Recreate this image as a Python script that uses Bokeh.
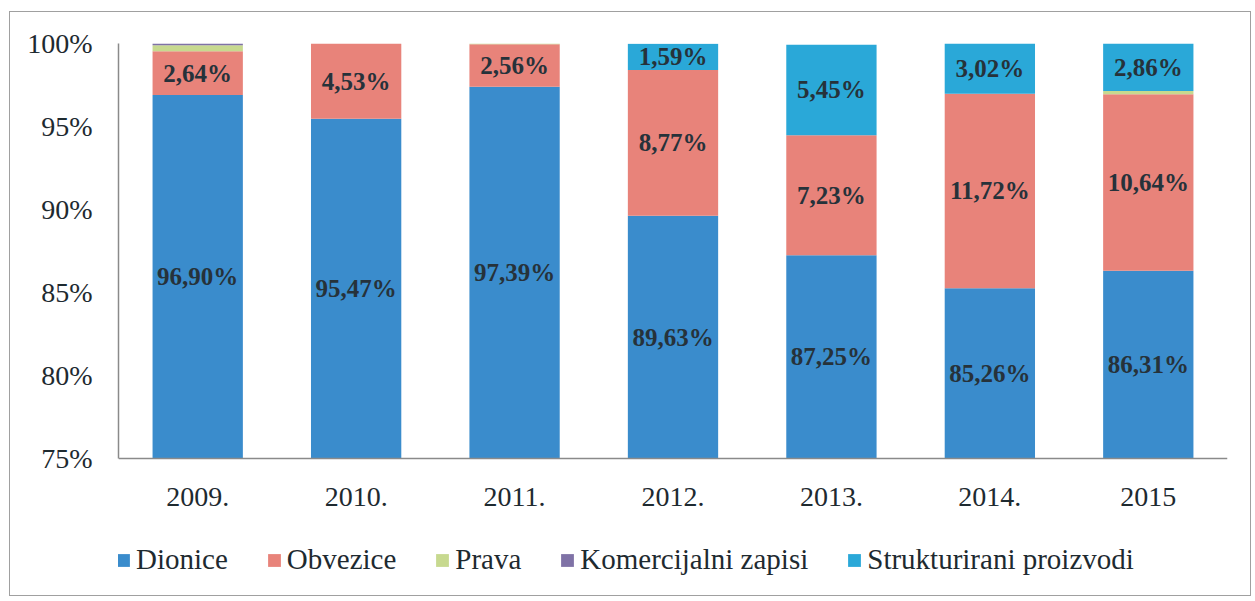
from bokeh.plotting import figure
from bokeh.models import Range1d, FactorRange, Legend, LegendItem, FixedTicker, Span
from bokeh.core.properties import value
from bokeh.embed import file_html
from bokeh.resources import INLINE

years = ["2009.", "2010.", "2011.", "2012.", "2013.", "2014.", "2015"]
series_names = ["Dionice", "Obvezice", "Prava", "Komercijalni zapisi", "Strukturirani proizvodi"]
dionice = [96.90, 95.47, 97.39, 89.63, 87.25, 85.26, 86.31]
obvezice = [2.64, 4.53, 2.56, 8.77, 7.23, 11.72, 10.64]
prava = [0.36, 0.0, 0.05, 0.0, 0.0, 0.0, 0.19]
komercijalni = [0.10, 0.0, 0.0, 0.0, 0.0, 0.0, 0.0]
strukturirani = [0.0, 0.0, 0.0, 1.59, 5.45, 3.02, 2.86]
y_ticks = [75, 80, 85, 90, 95, 100]
colors = ["#3a8ccc", "#e8837a", "#c7d98f", "#7f72a6", "#2aa8d8"]
FONT = "Liberation Serif"

Y_MIN, Y_MAX = 75, 100
# layout (pixels): axis area 415 px tall; frame extended downward to hold year labels and legend
AXIS_PX, FRAME_PX = 415, 550
per_px = (Y_MAX - Y_MIN) / AXIS_PX
y_start = Y_MAX - FRAME_PX * per_px

p = figure(x_range=FactorRange(*years), y_range=Range1d(y_start, Y_MAX),
           width=1244, height=587, output_backend="svg", toolbar_location=None,
           x_axis_location=None,
           min_border_left=110, min_border_right=25, min_border_top=33, min_border_bottom=4)
p.outline_line_color = None
p.border_fill_alpha = 0
p.background_fill_alpha = 0
p.xgrid.grid_line_color = None
p.ygrid.grid_line_color = None
p.styles = {"margin-left": "8px", "margin-top": "10px",
            "outline": "1.5px solid #a0a0a0", "outline-offset": "-2px"}

series = [dionice, obvezice, prava, komercijalni, strukturirani]
base = [0.0] * len(years)
renderers = []
lab_x, lab_y, lab_t = [], [], []
for j, (vals, col) in enumerate(zip(series, colors)):
    tops = [b + v for b, v in zip(base, vals)]
    bottoms = [max(b, Y_MIN) for b in base]
    r = p.vbar(x=years, bottom=bottoms, top=tops, width=0.57, color=col, line_color=None)
    renderers.append(r)
    if j in (0, 1, 4):
        for yr, lo, hi, v in zip(years, bottoms, tops, vals):
            if v > 0:
                lab_x.append(yr)
                lab_y.append((lo + hi) / 2)
                lab_t.append(("%.2f" % v).replace(".", ",") + "%")
    base = tops

p.text(x=lab_x, y=lab_y, text=lab_t, text_align="center", text_baseline="middle",
       text_font=value(FONT), text_font_style="bold", text_font_size="25px", text_color="#26323a")

# category axis line and labels
p.add_layout(Span(location=Y_MIN, dimension="width", line_color="#8a8a8a", line_width=1.5))
year_y = Y_MIN - 38 * per_px
p.text(x=years, y=[year_y] * len(years), text=years, text_align="center", text_baseline="middle",
       text_font=value(FONT), text_font_size="28px", text_color="#1e2a30")

# value axis
p.yaxis.bounds = (Y_MIN, Y_MAX)
p.yaxis.ticker = FixedTicker(ticks=y_ticks)
p.yaxis.major_label_overrides = {t: f"{t}%" for t in y_ticks}
p.yaxis.major_label_text_font = FONT
p.yaxis.major_label_text_font_size = "28px"
p.yaxis.major_label_text_color = "#1e2a30"
p.yaxis.major_tick_line_color = None
p.yaxis.major_tick_out = 0
p.yaxis.major_tick_in = 0
p.yaxis.minor_tick_line_color = None
p.yaxis.major_label_standoff = 26
p.yaxis.axis_line_color = "#8a8a8a"
p.yaxis.axis_line_width = 1.5

legend = Legend(items=[LegendItem(label=n, renderers=[r]) for n, r in zip(series_names, renderers)],
                orientation="horizontal", location=(-3, 17),
                label_text_font=FONT, label_text_font_size="29px", label_text_color="#1e2a30",
                glyph_width=16, glyph_height=16, label_standoff=5, spacing=38,
                padding=0, margin=0, border_line_color=None, background_fill_alpha=0)
p.add_layout(legend, "center")

open("out.html", "w").write(file_html(p, INLINE))
